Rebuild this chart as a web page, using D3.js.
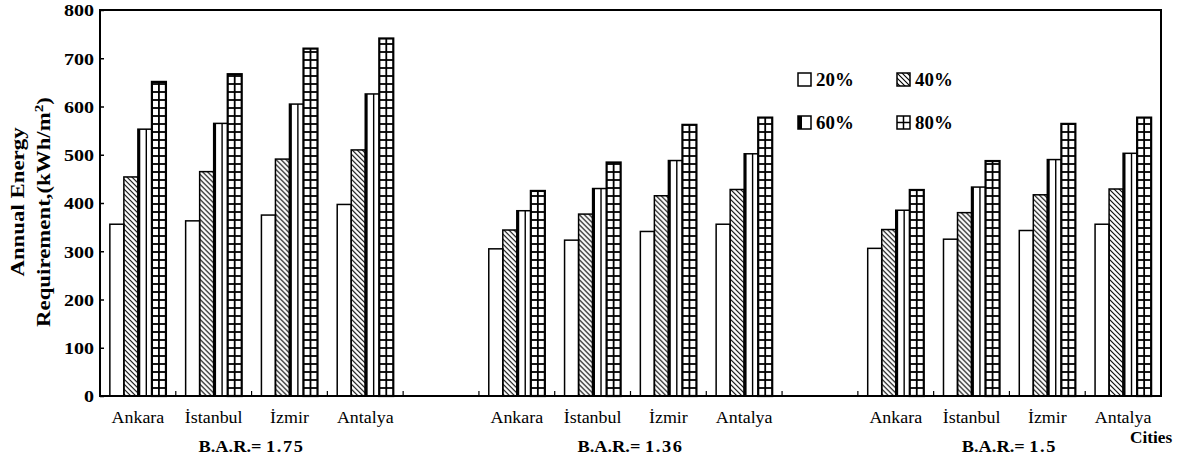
<!DOCTYPE html>
<html>
<head>
<meta charset="utf-8">
<script src="https://cdn.jsdelivr.net/npm/d3@7"></script>
<style>
    body { margin: 0; background: #fff; }
    svg { display: block; font-family: "Liberation Serif", "Times New Roman", serif; }
</style>
</head>
<body>
<div id="chart"></div>
<script>
// ------------------------------------------------- Data -------------------------------------------------
const cities = ["Ankara", "İstanbul", "İzmir", "Antalya"];
const groupLabels = ["1.75", "1.36", "1.5"];
const series = ["20%", "40%", "60%", "80%"];
const yTicks = [0, 100, 200, 300, 400, 500, 600, 700, 800];

// rows = cities, columns = 20%, 40%, 60%, 80%
const bar175 = [
    [356, 454, 553, 651],
    [363, 465, 565, 667],
    [375, 491, 605, 720],
    [397, 510, 626, 741]
];
const bar136 = [
    [305, 344, 384, 425],
    [323, 377, 430, 484],
    [341, 415, 488, 562],
    [356, 428, 502, 577]
];
const bar150 = [
    [306, 345, 385, 427],
    [325, 380, 433, 487],
    [343, 417, 490, 564],
    [356, 429, 503, 577]
];
const groupValues = [bar175, bar136, bar150];

// ------------------------------------------------- Layout -------------------------------------------------
const width = 1191, height = 459;
const plot = { left: 100, right: 1161, top: 10, bottom: 396 };

// one slot per city, with an empty slot between B.A.R. groups
const slots = [];
groupLabels.forEach((g, gi) => {
    if (gi > 0) slots.push({ key: "gap" + gi, gap: true });
    cities.forEach((c, ci) => slots.push({ key: g + "|" + c, city: c, group: gi, values: groupValues[gi][ci] }));
});
const citySlots = slots.filter(s => !s.gap);

const x0 = d3.scaleBand()
    .domain(slots.map(s => s.key))
    .range([plot.left, plot.right])
    .paddingInner(0.26)
    .paddingOuter(0.13);

const x1 = d3.scaleBand()
    .domain(series)
    .range([0, x0.bandwidth()]);

const y = d3.scaleLinear()
    .domain([0, 800])
    .range([plot.bottom, plot.top]);

const svg = d3.select("#chart").append("svg")
    .attr("width", width)
    .attr("height", height);

svg.append("rect").attr("width", width).attr("height", height).attr("fill", "#fff");

// hatch for the 40% bars
const defs = svg.append("defs");
defs.append("pattern")
    .attr("id", "hatch")
    .attr("patternUnits", "userSpaceOnUse")
    .attr("width", 5).attr("height", 5)
    .append("path")
    .attr("d", "M0,0L5,5M-1,4L1,6M4,-1L6,1")
    .attr("stroke", "#000")
    .attr("stroke-width", 1.1);

// text is wider than Liberation Serif in the reference, so stretch it a bit
function addText(parent, x, yy, str, opts = {}) {
    const { size = 15, weight = "normal", anchor = "middle", sx = 1.15, rotate = 0 } = opts;
    return parent.append("text")
        .attr("transform", `translate(${x},${yy}) rotate(${rotate}) scale(${sx},1)`)
        .attr("text-anchor", anchor)
        .style("font-size", size + "px")
        .style("font-weight", weight)
        .text(str);
}

// ------------------------------------------------- Bars -------------------------------------------------
const g = svg.append("g");
const bw = x1.bandwidth();

citySlots.forEach(s => {
    const sg = g.append("g").attr("transform", `translate(${x0(s.key)},0)`);
    series.forEach((ser, si) => {
        const v = s.values[si];
        const bx = x1(ser), top = y(v), h = y(0) - y(v);
        if (si === 0) {
            sg.append("rect").attr("x", bx).attr("y", top).attr("width", bw).attr("height", h)
                .attr("fill", "#fff").attr("stroke", "#000").attr("stroke-width", 1.5);
        } else if (si === 1) {
            sg.append("rect").attr("x", bx).attr("y", top).attr("width", bw).attr("height", h)
                .attr("fill", "url(#hatch)").attr("stroke", "#000").attr("stroke-width", 1.5);
        } else if (si === 2) {
            sg.append("rect").attr("x", bx).attr("y", top).attr("width", bw).attr("height", h)
                .attr("fill", "#fff").attr("stroke", "#000").attr("stroke-width", 1.5);
            // thick left edge + one inner stripe
            sg.append("line").attr("x1", bx + 1.2).attr("x2", bx + 1.2).attr("y1", top).attr("y2", y(0))
                .attr("stroke", "#000").attr("stroke-width", 2.4);
            sg.append("line").attr("x1", bx + bw * 0.6).attr("x2", bx + bw * 0.6).attr("y1", top).attr("y2", y(0))
                .attr("stroke", "#000").attr("stroke-width", 1.4);
        } else {
            sg.append("rect").attr("x", bx).attr("y", top).attr("width", bw).attr("height", h)
                .attr("fill", "#fff").attr("stroke", "#000").attr("stroke-width", 2.2);
            // grid: centre line and horizontal rungs
            sg.append("line").attr("x1", bx + bw / 2).attr("x2", bx + bw / 2).attr("y1", top).attr("y2", y(0))
                .attr("stroke", "#000").attr("stroke-width", 1.8);
            d3.range(y(0) - 8, top, -8).forEach(ly => {
                sg.append("line").attr("x1", bx).attr("x2", bx + bw).attr("y1", ly).attr("y2", ly)
                    .attr("stroke", "#000").attr("stroke-width", 1.8);
            });
        }
    });
});

// ------------------------------------------------- Axes & Frame -------------------------------------------------
const yAxis = svg.append("g")
    .attr("transform", `translate(${plot.left},0)`)
    .call(d3.axisLeft(y).tickValues(yTicks).tickSize(-4).tickFormat(d3.format("d")));
yAxis.select(".domain").remove();
yAxis.selectAll(".tick line").attr("stroke", "#000").attr("stroke-width", 1.5);
yAxis.selectAll(".tick text")
    .attr("x", 0).attr("dy", "0.35em")
    .attr("transform", "translate(-6,0) scale(1.18,1)")
    .attr("fill", "#000")
    .style("font-family", "Liberation Serif, serif")
    .style("font-size", "17px")
    .style("font-weight", "bold");

// small ticks on the baseline at every slot boundary
const half = x0.step() * x0.paddingInner() / 2;
slots.slice(1).forEach(s => {
    const bx = x0(s.key) - half;
    svg.append("line").attr("x1", bx).attr("x2", bx).attr("y1", y(0)).attr("y2", y(0) - 5)
        .attr("stroke", "#000").attr("stroke-width", 1.2);
});

svg.append("rect")
    .attr("x", plot.left).attr("y", plot.top)
    .attr("width", plot.right - plot.left).attr("height", plot.bottom - plot.top)
    .attr("fill", "none").attr("stroke", "#000").attr("stroke-width", 2);

// city labels
citySlots.forEach(s => {
    addText(svg, x0(s.key) + x0.bandwidth() / 2, 423, s.city, { size: 16, sx: 1.12 });
});

// B.A.R. group labels
groupLabels.forEach((gl, gi) => {
    const keys = citySlots.filter(s => s.group === gi).map(s => s.key);
    const cx = (x0(keys[0]) + x0(keys[keys.length - 1]) + x0.bandwidth()) / 2;
    const t = addText(svg, cx, 452, "", { size: 17, weight: "bold", sx: 1.08 });
    t.append("tspan").text("B.A.R.= ");
    t.append("tspan").style("letter-spacing", "1.5px").text(gl);
});

addText(svg, 1151, 443, "Cities", { size: 16, weight: "bold", sx: 1.08 });

// y title
addText(svg, 24, 202, "Annual Energy", { size: 18, weight: "bold", sx: 1.27, rotate: -90 });
const yt = addText(svg, 50, 212, "Requirement,(kWh/m", { size: 18, weight: "bold", sx: 1.27, rotate: -90 });
yt.append("tspan").attr("dy", -7).style("font-size", "12px").text("2");
yt.append("tspan").attr("dy", 7).text(")");

// ------------------------------------------------- Legend -------------------------------------------------
const legendPos = [[798, 73], [897, 73], [798, 116], [897, 116]];
series.forEach((ser, si) => {
    const [lx, ly] = legendPos[si];
    const lg = svg.append("g").attr("transform", `translate(${lx},${ly})`);
    const s = 13;
    lg.append("rect").attr("width", s).attr("height", s)
        .attr("fill", si === 1 ? "url(#hatch)" : "#fff")
        .attr("stroke", "#000").attr("stroke-width", 1.5);
    if (si === 2) {
        lg.append("rect").attr("width", 4).attr("height", s).attr("fill", "#000");
    }
    if (si === 3) {
        lg.append("path").attr("d", `M${s / 2},0V${s}M0,${s / 2}H${s}`)
            .attr("stroke", "#000").attr("stroke-width", 1.5);
    }
    addText(lg, s + 5, s, ser, { size: 18, weight: "bold", anchor: "start", sx: 1.05 });
});
</script>
</body>
</html>
